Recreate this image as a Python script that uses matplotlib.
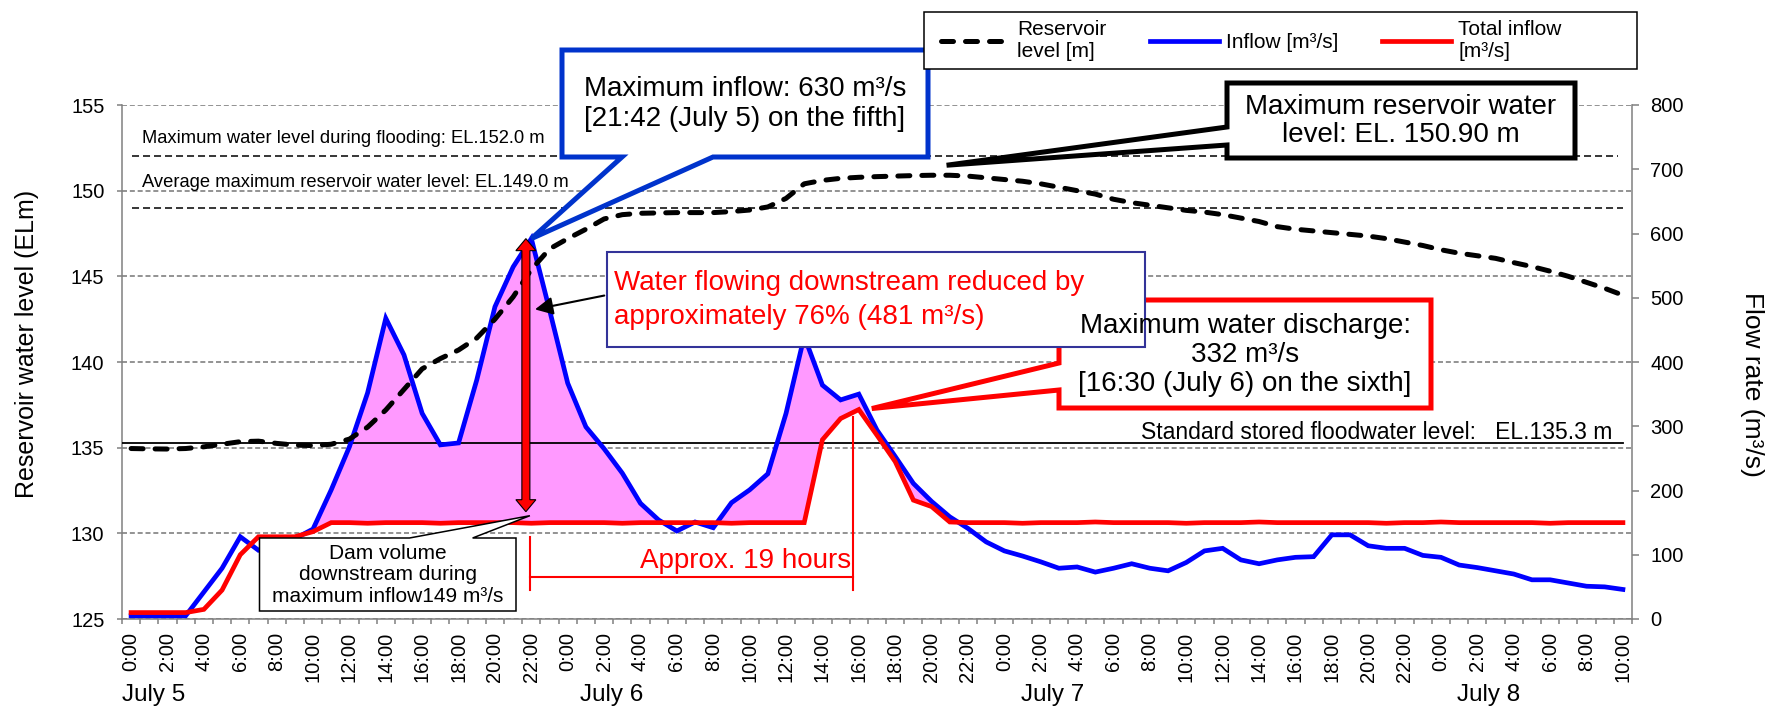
import numpy as np
import matplotlib.pyplot as plt
from matplotlib import patches, transforms

plt.rcParams['font.family'] = ['Liberation Sans', 'DejaVu Sans']

# hourly values, July 5 0:00 .. July 8 10:00
hours = np.arange(83)
level = [134.95, 134.93, 134.92, 134.95, 135.05, 135.2, 135.35, 135.38, 135.25, 135.15,
         135.12, 135.2, 135.5, 136.2, 137.2, 138.4, 139.6, 140.2, 140.7, 141.4,
         142.5, 143.8, 145.4, 146.6, 147.2, 147.75, 148.35, 148.6, 148.68, 148.7,
         148.72, 148.72, 148.72, 148.78, 148.87, 149.05, 149.55, 150.4, 150.6, 150.72,
         150.78, 150.82, 150.85, 150.88, 150.9, 150.9, 150.85, 150.75, 150.65, 150.55,
         150.4, 150.2, 150.0, 149.8, 149.5, 149.3, 149.15, 149.0, 148.85, 148.75,
         148.6, 148.4, 148.2, 147.9, 147.75, 147.65, 147.55, 147.45, 147.35, 147.2,
         147.0, 146.8, 146.55, 146.35, 146.2, 146.05, 145.8, 145.57, 145.3, 145.0,
         144.65, 144.3, 143.9]
inflow = [5, 5, 5, 5, 42, 79, 128, 107, 115, 125,
          140, 201, 268, 352, 468, 411, 320, 271, 274, 372,
          486, 548, 592, 481, 367, 299, 265, 227, 180, 154,
          137, 151, 142, 181, 201, 226, 320, 440, 364, 341,
          350, 294, 253, 211, 183, 159, 141, 120, 106, 98,
          89, 79, 81, 73, 79, 86, 79, 75, 88, 106,
          110, 92, 86, 92, 96, 97, 131, 131, 114, 110,
          110, 99, 96, 84, 80, 75, 70, 61, 61, 56,
          51, 50, 46]
outflow = [10, 10, 10, 10, 15, 45, 100, 128, 128, 128,
           136, 150, 150, 149, 150, 150, 150, 149, 150, 150,
           150, 150, 149, 150, 150, 150, 150, 149, 150, 150,
           150, 150, 150, 149, 150, 150, 150, 150, 279, 312,
           326, 286, 245, 185, 175, 151, 150, 150, 150, 149,
           150, 150, 150, 151, 150, 150, 150, 150, 149, 150,
           150, 150, 151, 150, 150, 150, 150, 150, 150, 149,
           150, 150, 151, 150, 150, 150, 150, 150, 149, 150,
           150, 150, 150]
time_labels = ['%d:00' % h for d in range(4) for h in range(0, 24, 2)][:42]
day_labels = ['July 5', 'July 6', 'July 7', 'July 8']
day_x = [-0.5, 24.7, 48.9, 72.9]

level = np.array(level)
inflow = np.array(inflow)
outflow = np.array(outflow)

W, H = 1777, 714


def fpos(x, y):
    return (x / W, 1 - y / H)


def to_px(a, x, y):
    d = a.transData.transform((x, y))
    return d[0], H - d[1]


fig = plt.figure(figsize=(W / 100, H / 100), dpi=100)
ax = fig.add_axes([122 / W, 1 - 619 / H, 1510 / W, 514 / H])
ax2 = ax.twinx()
ax.set_xlim(-0.5, 82.5)
ax.set_ylim(125, 155)
ax2.set_ylim(0, 800)

gray = '#808080'
ax.set_yticks(range(125, 156, 5))
ax.grid(axis='y', color=gray, ls=(0, (3, 1.7)), lw=1.2)
ax.set_axisbelow(True)
ax2.set_yticks(range(0, 801, 100))

ax.set_xticks(np.arange(-0.5, 83, 1))
ax.set_xticklabels([])
ax.set_xticks(hours[::2], minor=True)
ax.set_xticklabels(time_labels, minor=True, rotation=90, fontsize=14.5)
ax.tick_params(axis='x', which='major', length=3.6, width=1.1, color=gray)
ax.tick_params(axis='x', which='minor', length=0, pad=9.5)
ax.tick_params(axis='y', length=3.6, width=1.1, color=gray, labelsize=14.5, pad=9)
ax2.tick_params(axis='y', length=5, width=1.1, color=gray, labelsize=14.5, pad=8)
for s in ['top', 'right']:
    ax.spines[s].set_visible(False)
for s in ['top', 'left', 'bottom']:
    ax2.spines[s].set_visible(False)
for s in ['left', 'bottom']:
    ax.spines[s].set_color(gray)
    ax.spines[s].set_linewidth(1.1)
ax2.spines['right'].set_color(gray)
ax2.spines['right'].set_linewidth(1.1)

# reference levels
ax2.plot([0.05, 81.75], [152, 152], transform=ax.transData, color='black', lw=1.1,
         ls=(0, (4.6, 2.6)), zorder=2)
ax2.plot([0.05, 82], [149, 149], transform=ax.transData, color='black', lw=1.1,
         ls=(0, (4.6, 2.6)), zorder=2)

ax2.fill_between(hours, outflow, inflow, where=(inflow > outflow) & (hours >= 10),
                 interpolate=True, color='#FF99FF', lw=0, zorder=1)
ax2.plot([-0.5, 82], [135.3, 135.3], transform=ax.transData, color='black', lw=1.3, zorder=2)
blue, = ax2.plot(hours, inflow, color='#0000FF', lw=3.4, solid_joinstyle='miter', zorder=3)
red, = ax2.plot(hours, outflow, color='#FF0000', lw=3.4, solid_joinstyle='miter', zorder=3.5)
lvl, = ax2.plot(hours, level, transform=ax.transData, color='black', lw=3.6,
                dashes=(2.4, 2.4), dash_capstyle='round', zorder=4)

# approx 19 hours bracket
ax2.plot([21.9, 21.9], [45, 128], color='#FF0000', lw=1.5, zorder=4)
ax2.plot([39.7, 39.7], [45, 314], color='#FF0000', lw=1.5, zorder=4)
ax2.plot([21.9, 39.7], [65, 65], color='#FF0000', lw=1.5, zorder=4)
ax2.text(39.6, 79, 'Approx. 19 hours', color='#FF0000', fontsize=20, ha='right', va='baseline', zorder=5)

fig.text(*fpos(142, 143), 'Maximum water level during flooding: EL.152.0 m', fontsize=13.2, va='baseline')
fig.text(*fpos(142, 187), 'Average maximum reservoir water level: EL.149.0 m', fontsize=13.2, va='baseline')
fig.text(*fpos(1612, 439), 'Standard stored floodwater level:   EL.135.3 m', fontsize=16.5,
         ha='right', va='baseline')

fig.text(*fpos(27, 344), 'Reservoir water level (ELm)', rotation=90, fontsize=18, ha='center', va='center')
fig.text(*fpos(1752, 384), 'Flow rate (m³/s)', rotation=270, fontsize=19, ha='center', va='center')

dtrans = transforms.blended_transform_factory(ax.transData, fig.transFigure)
for x, lab in zip(day_x, day_labels):
    fig.text(x, 1 - 695 / H, lab, transform=dtrans, fontsize=17.5, ha='left', va='center')


def callout(rect, side, a, b, tip, ec, lw):
    x0, y0, x1, y1 = rect
    lo, hi = min(a, b), max(a, b)
    if side == 'bottom':
        pts = [(x0, y0), (x1, y0), (x1, y1), (hi, y1), tip, (lo, y1), (x0, y1)]
    elif side == 'left':
        pts = [(x0, y0), (x1, y0), (x1, y1), (x0, y1), (x0, hi), tip, (x0, lo)]
    else:
        pts = [(x0, y0), (lo, y0), tip, (hi, y0), (x1, y0), (x1, y1), (x0, y1)]
    fig.add_artist(patches.Polygon([fpos(*p) for p in pts], closed=True, transform=fig.transFigure,
                                   fc='white', ec=ec, lw=lw, joinstyle='miter', zorder=5))


# red reduction arrow
ipk = int(np.argmax(inflow))
axx, ytop = to_px(ax2, 21.7, inflow.max())
_, ybot = to_px(ax2, 21.7, 167)
arr = [(axx, ytop), (axx + 10, ytop + 12), (axx + 4, ytop + 12), (axx + 4, ybot - 12),
       (axx + 10, ybot - 12), (axx, ybot), (axx - 10, ybot - 12), (axx - 4, ybot - 12),
       (axx - 4, ytop + 12), (axx - 10, ytop + 12)]
fig.add_artist(patches.Polygon([fpos(*p) for p in arr], closed=True, transform=fig.transFigure,
                               fc='#FF0000', ec='black', lw=0.8, zorder=4))

# blue callout
tip = to_px(ax2, hours[ipk], inflow.max())
callout((562, 50, 928, 157), 'bottom', 622, 713, tip, '#0033CC', 3.6)
fig.text(*fpos(745, 104), 'Maximum inflow: 630 m³/s\n[21:42 (July 5) on the fifth]', fontsize=20,
         ha='center', va='center', multialignment='left', linespacing=1.15, zorder=6)

# black callout
lx, ly = to_px(ax, hours[int(np.argmax(level))], level.max())
callout((1227, 83, 1575, 158), 'left', 127, 145, (lx + 15, ly - 10), 'black', 3.6)
fig.text(*fpos(1401, 121), 'Maximum reservoir water\nlevel: EL. 150.90 m', fontsize=20,
         ha='center', va='center', linespacing=1.15, zorder=6)

# red callout
rx, ry = to_px(ax2, hours[int(np.argmax(outflow))], outflow.max())
callout((1059, 300, 1431, 408), 'left', 363, 390, (rx + 13, ry - 1), '#FF0000', 3.6)
fig.text(*fpos(1245, 355), 'Maximum water discharge:\n332 m³/s\n[16:30 (July 6) on the sixth]', fontsize=20,
         ha='center', va='center', linespacing=1.15, zorder=6)

# dam volume callout
callout((259.5, 538, 516, 611), 'top', 409.5, 472.6, (axx + 4, ybot + 4), 'black', 1.1)
fig.text(*fpos(388, 575), 'Dam volume\ndownstream during\nmaximum inflow149 m³/s', fontsize=15,
         ha='center', va='center', linespacing=1.15, zorder=6)

# reduction box
fig.add_artist(patches.Rectangle(fpos(607, 347), (1145 - 607) / W, (347 - 252) / H, transform=fig.transFigure,
                                 fc='white', ec='#333399', lw=1.5, zorder=5))
fig.text(*fpos(614.5, 300), 'Water flowing downstream reduced by\napproximately 76% (481 m³/s)', fontsize=20,
         color='#FF0000', ha='left', va='center', linespacing=1.4, zorder=6)
wx, wy = to_px(ax2, 22.05, 481)
fig.add_artist(patches.FancyArrowPatch(fpos(607, 295), fpos(wx, wy), transform=fig.transFigure,
                                       arrowstyle='-|>,head_length=0.6,head_width=0.3', mutation_scale=18,
                                       lw=1.5, color='black', zorder=6))

# legend with an Excel-like wide frame
fig.add_artist(patches.Rectangle(fpos(924, 69), (1637 - 924) / W, (69 - 12) / H, transform=fig.transFigure,
                                 fc='white', ec='black', lw=1.1, zorder=5))
leg = fig.legend([lvl, blue, red], ['Reservoir\nlevel [m]', 'Inflow [m³/s]', 'Total inflow\n[m³/s]'],
                 ncol=3, loc='center left', bbox_to_anchor=(941 / W, 1 - 40.5 / H), fontsize=15,
                 frameon=False, handlelength=3.3, handletextpad=0.35, columnspacing=2.1,
                 borderpad=0, borderaxespad=0)
leg.set_zorder(6)

fig.savefig('out.png', dpi=100)
